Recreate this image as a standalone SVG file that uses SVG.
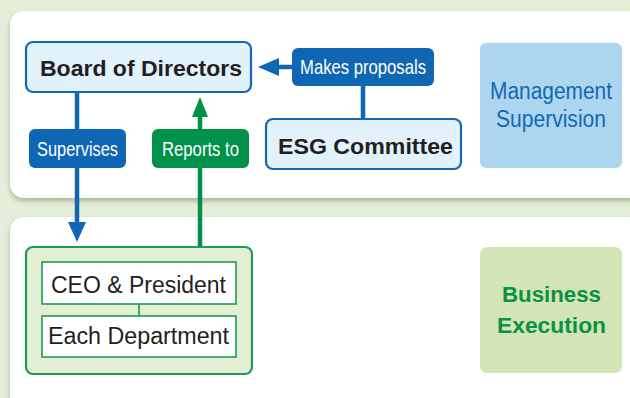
<svg xmlns="http://www.w3.org/2000/svg" width="630" height="398" viewBox="0 0 630 398">
  <defs>
    <filter id="panelShadow" x="-5%" y="-10%" width="110%" height="125%">
      <feDropShadow dx="0" dy="3" stdDeviation="2.5" flood-color="#9fb090" flood-opacity="0.9"/>
    </filter>
    <style>
      .panel { fill: #ffffff; filter: url(#panelShadow); }
      .blueNode { fill: #e1f2fb; stroke: #1268b3; stroke-width: 2.2; }
      .nodeText { font-family: "Liberation Sans", Arial, sans-serif; font-size: 22px; fill: #231f20; text-anchor: middle; }
      .bold { font-weight: bold; }
      .tag { font-family: "Liberation Sans", Arial, sans-serif; font-size: 21px; fill: #ffffff; text-anchor: middle; }
      .blueTag { fill: #0f66b2; }
      .greenTag { fill: #00924a; }
      .blueLine { stroke: #0f66b2; stroke-width: 4.5; fill: none; }
      .greenLine { stroke: #00924a; stroke-width: 4.5; fill: none; }
      .innerBox { fill: #ffffff; stroke: #1f9a57; stroke-width: 1.6; }
    </style>
  </defs>

  <!-- background and panels -->
  <rect x="0" y="0" width="630" height="398" fill="#e5eed8"/>
  <rect class="panel" x="10" y="11" width="640" height="187" rx="14"/>
  <rect class="panel" x="10" y="217" width="640" height="200" rx="14"/>

  <!-- connectors -->
  <g id="connectors">
    <!-- Makes proposals: ESG Committee to Board -->
    <line class="blueLine" x1="363" y1="84" x2="363" y2="120"/>
    <line class="blueLine" x1="276" y1="67" x2="294" y2="67"/>
    <polygon points="258,67 279,58 279,76" fill="#0f66b2"/>
    <!-- Supervises: Board down to execution -->
    <line class="blueLine" x1="77" y1="92" x2="77" y2="224"/>
    <polygon points="77,242 68,222 86,222" fill="#0f66b2"/>
    <!-- Reports to: execution up to Board -->
    <line class="greenLine" x1="200" y1="248" x2="200" y2="115"/>
    <polygon points="200,97 192,117 208,117" fill="#00924a"/>

    <g id="label-makes-proposals">
      <rect class="blueTag" x="292" y="48" width="142" height="38" rx="6"/>
      <text class="tag" x="363" y="74" textLength="126" lengthAdjust="spacingAndGlyphs">Makes proposals</text>
    </g>
    <g id="label-supervises">
      <rect class="blueTag" x="29" y="129" width="97" height="39" rx="6"/>
      <text class="tag" x="77.5" y="156" textLength="81" lengthAdjust="spacingAndGlyphs">Supervises</text>
    </g>
    <g id="label-reports-to">
      <rect class="greenTag" x="152" y="129" width="97" height="39" rx="6"/>
      <text class="tag" x="200.5" y="156" textLength="77" lengthAdjust="spacingAndGlyphs">Reports to</text>
    </g>
  </g>

  <!-- nodes -->
  <g id="board">
    <rect class="blueNode" x="26" y="42" width="225" height="50" rx="7"/>
    <text class="nodeText bold" x="141" y="76" textLength="202" lengthAdjust="spacingAndGlyphs">Board of Directors</text>
  </g>

  <g id="esg-committee">
    <rect class="blueNode" x="266" y="119" width="195" height="50" rx="7"/>
    <text class="nodeText bold" x="365.5" y="154" textLength="175" lengthAdjust="spacingAndGlyphs">ESG Committee</text>
  </g>

  <g id="management-supervision">
    <rect x="480" y="43" width="142" height="125" rx="6" fill="#acd6f0"/>
    <text class="nodeText" x="551" y="99" style="fill:#1268b3;font-size:23px" textLength="122" lengthAdjust="spacingAndGlyphs">Management</text>
    <text class="nodeText" x="551" y="127" style="fill:#1268b3;font-size:23px" textLength="110" lengthAdjust="spacingAndGlyphs">Supervision</text>
  </g>

  <g id="execution">
    <rect x="26" y="247" width="226" height="127" rx="7" fill="#e2efd5" stroke="#1f9a57" stroke-width="2.2"/>
    <!-- link between the two inner boxes -->
    <line x1="139" y1="304" x2="139" y2="316" stroke="#1f9a57" stroke-width="1.6"/>
    <g id="ceo-president">
      <rect class="innerBox" x="42" y="262" width="194" height="42"/>
      <text class="nodeText" x="138.5" y="293" style="font-size:23px" textLength="175" lengthAdjust="spacingAndGlyphs">CEO &amp; President</text>
    </g>
    <g id="each-department">
      <rect class="innerBox" x="42" y="316" width="194" height="41"/>
      <text class="nodeText" x="138.5" y="344" style="font-size:23px" textLength="181" lengthAdjust="spacingAndGlyphs">Each Department</text>
    </g>
  </g>

  <g id="business-execution">
    <rect x="480" y="247" width="142" height="126" rx="7" fill="#d3e5b4"/>
    <text class="nodeText bold" x="551.5" y="302" style="fill:#0a9147" textLength="99" lengthAdjust="spacingAndGlyphs">Business</text>
    <text class="nodeText bold" x="551.5" y="333" style="fill:#0a9147" textLength="109" lengthAdjust="spacingAndGlyphs">Execution</text>
  </g>
</svg>
